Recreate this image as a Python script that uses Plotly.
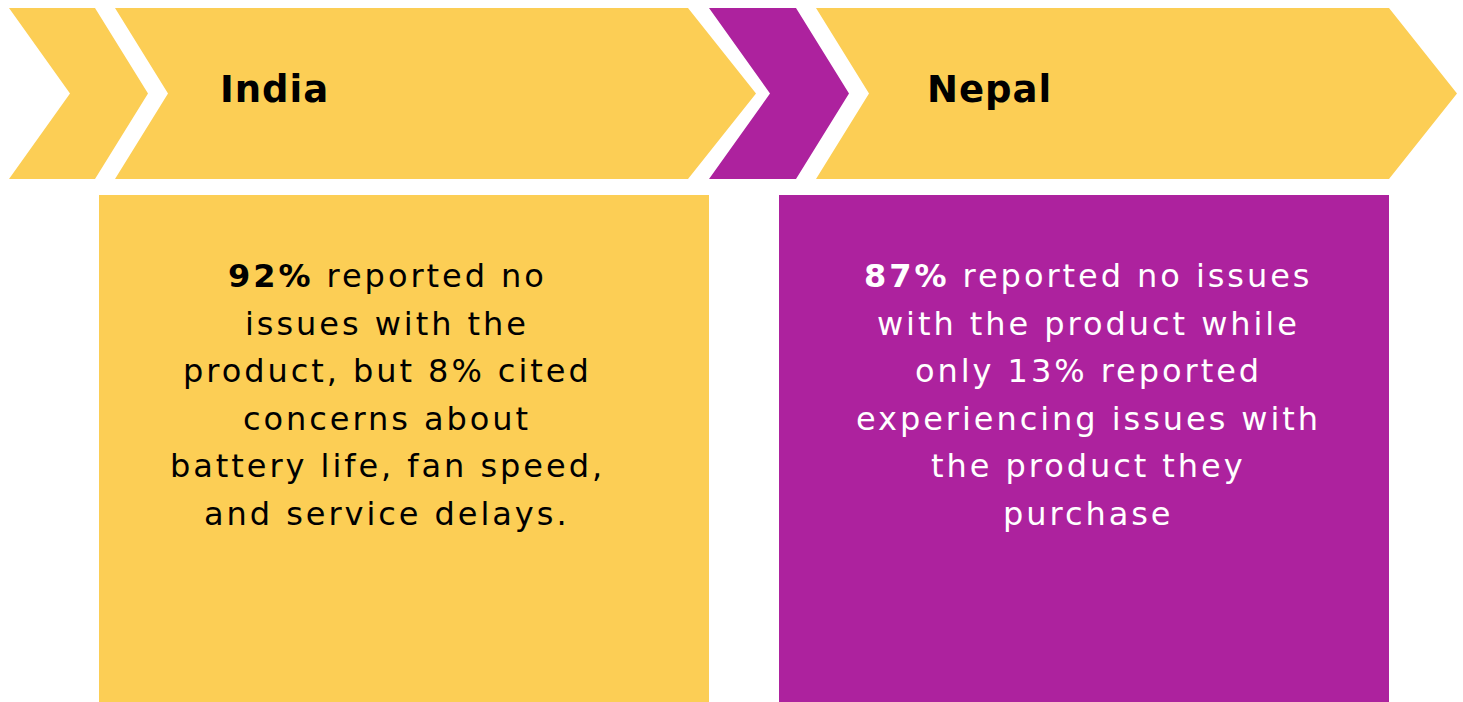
import plotly.graph_objects as go

# ---- data ----
countries = ["India", "Nepal"]
pct_no_issues = [92, 87]
india_lines = [
    "<b>92%</b> reported no",
    "issues with the",
    "product, but 8% cited",
    "concerns about",
    "battery life, fan speed,",
    "and service delays.",
]
nepal_lines = [
    "<b>87%</b> reported no issues",
    "with the product while",
    "only 13% reported",
    "experiencing issues with",
    "the product they",
    "purchase",
]
card_lines = [india_lines, nepal_lines]

YELLOW = "#FCCE55"
PURPLE = "#AD229E"
card_colors = [YELLOW, PURPLE]
text_colors = ["#000000", "#FFFFFF"]

W, H = 1463, 702
FONT = "DejaVu Sans"

# chevron geometry (left x, notch x, right-top x, tip x, color)
chevrons = [
    (9, 70, 95, 148, YELLOW),
    (115, 168, 688, 756, YELLOW),
    (709, 770, 796, 849, PURPLE),
    (816, 869, 1389, 1457, YELLOW),
]
TOP, BOT = 8, 179
MID = (TOP + BOT) / 2

shapes = []
for lx, nx, rx, tx, col in chevrons:
    path = (f"M {lx},{TOP} L {rx},{TOP} L {tx},{MID} L {rx},{BOT} "
            f"L {lx},{BOT} L {nx},{MID} Z")
    shapes.append(dict(type="path", path=path, xref="x", yref="y",
                       fillcolor=col, line=dict(width=0), layer="below"))

cards = [(99, 709), (779, 1389)]
for (x0, x1), col in zip(cards, card_colors):
    shapes.append(dict(type="rect", x0=x0, x1=x1, y0=195, y1=H, xref="x", yref="y",
                       fillcolor=col, line=dict(width=0), layer="below"))

annotations = []
header_x = [274, 989]
for name, hx in zip(countries, header_x):
    annotations.append(dict(x=hx, y=89, xref="x", yref="y",
                            text=f'<span style="letter-spacing:1px"><b>{name}</b></span>',
                            showarrow=False, xanchor="center", yanchor="middle",
                            font=dict(family=FONT, size=37, color="#000000")))

text_cx = [387, 1088]
line_y0, line_dy = 276, 47.6
for cx, lines, tc in zip(text_cx, card_lines, text_colors):
    for i, ln in enumerate(lines):
        annotations.append(dict(x=cx, y=line_y0 + i * line_dy, xref="x", yref="y",
                                text=f'<span style="letter-spacing:2.95px">{ln}</span>',
                                showarrow=False, xanchor="center",
                                yanchor="middle",
                                font=dict(family=FONT, size=32, color=tc)))

fig = go.Figure()
fig.add_trace(go.Scatter(x=[0, W], y=[0, H], mode="markers",
                         marker=dict(opacity=0), hoverinfo="skip", showlegend=False))
fig.update_layout(
    width=W, height=H, margin=dict(l=0, r=0, t=0, b=0),
    paper_bgcolor="white", plot_bgcolor="white",
    xaxis=dict(range=[0, W], visible=False, fixedrange=True),
    yaxis=dict(range=[H, 0], visible=False, fixedrange=True),
    shapes=shapes, annotations=annotations, showlegend=False,
)
fig.write_html("out.html", config={"displayModeBar": False},
               post_script="document.body.style.margin='0';document.body.style.overflow='hidden';")
